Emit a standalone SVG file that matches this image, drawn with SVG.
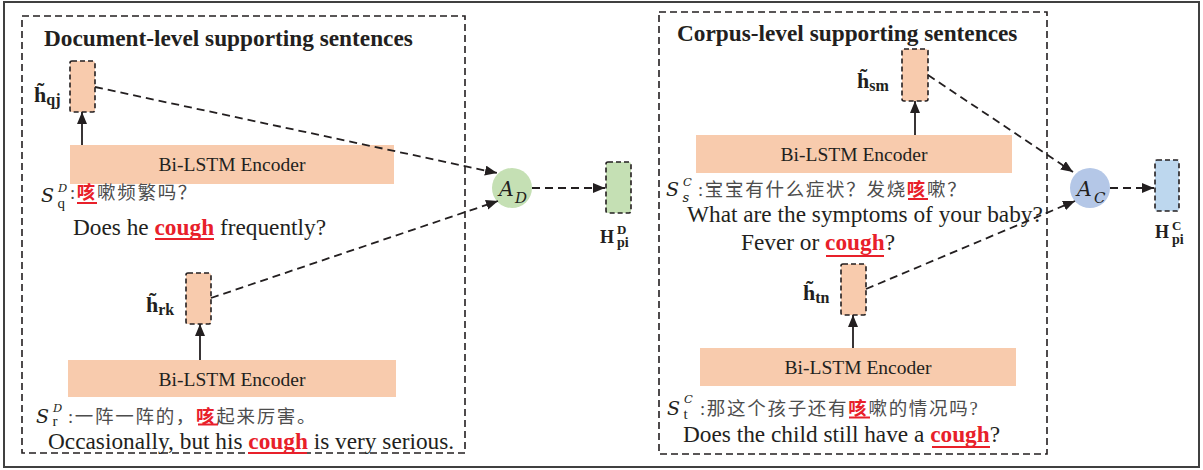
<svg xmlns="http://www.w3.org/2000/svg" width="1203" height="470" viewBox="0 0 1203 470">
  <defs>
    <marker id="ah" markerUnits="userSpaceOnUse" markerWidth="13" markerHeight="11" refX="12" refY="5" orient="auto">
      <path d="M0,0 L12,5 L0,10 z" fill="#231f20"/>
    </marker>
    <style>
      .frame { fill: #fff; stroke: #404040; stroke-width: 2; }
      .group { fill: none; stroke: #231f20; stroke-width: 1.6; stroke-dasharray: 7 4; }
      .enc { fill: #f8cbad; }
      .vec { stroke: #231f20; stroke-width: 1.6; stroke-dasharray: 5 3; }
      .peach { fill: #f8cbad; }
      .green { fill: #c5e0b4; }
      .blue { fill: #bdd7ee; }
      .dash { fill: none; stroke: #231f20; stroke-width: 1.8; stroke-dasharray: 8 5; marker-end: url(#ah); }
      .solid { fill: none; stroke: #231f20; stroke-width: 1.8; marker-end: url(#ah); }
      text { font-family: 'Liberation Serif', 'Times New Roman', serif; }
      .title { font-weight: bold; font-size: 23.3px; fill: #231f20; }
      .enct { font-size: 19.5px; fill: #231f20; text-anchor: middle; }
      .en { font-size: 23.3px; fill: #231f20; }
      .zh { font-family: 'Liberation Serif', 'Noto Sans CJK SC', serif; font-size: 18.5px; letter-spacing: 1.7px; fill: #4d4d4d; }
      .hl { fill: #e8202a; font-weight: bold; }
      .ul { stroke: #e8202a; stroke-width: 2; }
      .math { font-family: 'DejaVu Serif', 'Liberation Serif', serif; font-style: italic; fill: #231f20; }
      .up { fill: #231f20; }
      .vlab { font-weight: bold; fill: #231f20; }
    </style>
  </defs>

  <rect class="frame" x="4" y="2" width="1195" height="465"/>

  <!-- document-level group -->
  <g id="doc-group">
    <rect class="group" x="22" y="16" width="443" height="437"/>
    <text class="title" x="44" y="45.5">Document-level supporting sentences</text>
  </g>

  <!-- corpus-level group -->
  <g id="corpus-group">
    <rect class="group" x="659" y="12" width="388" height="442"/>
    <text class="title" x="677" y="40.5">Corpus-level supporting sentences</text>
  </g>

  <!-- encoders -->
  <g id="enc-q">
    <rect class="enc" x="70" y="145" width="324" height="39"/>
    <text class="enct" x="232" y="171">Bi-LSTM Encoder</text>
  </g>
  <g id="enc-r">
    <rect class="enc" x="68" y="360" width="328" height="37"/>
    <text class="enct" x="232" y="386">Bi-LSTM Encoder</text>
  </g>
  <g id="enc-s">
    <rect class="enc" x="696" y="135" width="316" height="38"/>
    <text class="enct" x="854" y="161">Bi-LSTM Encoder</text>
  </g>
  <g id="enc-t">
    <rect class="enc" x="700" y="348" width="316" height="38"/>
    <text class="enct" x="858" y="374">Bi-LSTM Encoder</text>
  </g>

  <!-- sentence vectors -->
  <g id="h-qj">
    <rect class="vec peach" x="70" y="61" width="25" height="51" rx="2"/>
    <text class="vlab" x="34" y="102" font-size="22">h&#x303;<tspan font-size="16" dy="3">qj</tspan></text>
  </g>
  <g id="h-rk">
    <rect class="vec peach" x="186" y="273" width="25" height="51" rx="2"/>
    <text class="vlab" x="146" y="312" font-size="22">h&#x303;<tspan font-size="16" dy="3">rk</tspan></text>
  </g>
  <g id="h-sm">
    <rect class="vec peach" x="902" y="49" width="26" height="52" rx="2"/>
    <text class="vlab" x="857" y="88" font-size="22">h&#x303;<tspan font-size="16" dy="3">sm</tspan></text>
  </g>
  <g id="h-tn">
    <rect class="vec peach" x="841" y="264" width="25" height="51" rx="2"/>
    <text class="vlab" x="803" y="300" font-size="22">h&#x303;<tspan font-size="16" dy="3">tn</tspan></text>
  </g>

  <!-- attention nodes -->
  <g id="attn-d">
    <circle cx="512" cy="188" r="20" class="green"/>
    <text class="math" x="499" y="196" font-size="20.5">A</text>
    <text class="math" x="515" y="203" font-size="15">D</text>
  </g>
  <g id="attn-c">
    <circle cx="1090" cy="188" r="20" fill="#b4c7e7"/>
    <text class="math" x="1077" y="196" font-size="20.5">A</text>
    <text class="math" x="1094" y="203" font-size="15">C</text>
  </g>

  <!-- pooled outputs -->
  <g id="H-d">
    <rect class="vec green" x="606" y="162" width="25" height="51" rx="2"/>
    <text class="vlab" x="600" y="243" font-size="18">H</text>
    <text class="vlab" x="617" y="234" font-size="13">D</text>
    <text class="vlab" x="617" y="247" font-size="14">pi</text>
  </g>
  <g id="H-c">
    <rect class="vec blue" x="1155" y="160" width="24" height="51" rx="2"/>
    <text class="vlab" x="1155" y="238" font-size="18">H</text>
    <text class="vlab" x="1172" y="230" font-size="13">C</text>
    <text class="vlab" x="1172" y="244" font-size="14">pi</text>
  </g>

  <!-- sentence S_q^D -->
  <g id="sent-q">
    <text class="math" x="41" y="202" font-size="19">S</text>
    <text class="math" x="58" y="191.5" font-size="11.5">D</text>
    <text class="up" x="57.5" y="208" font-size="15">q</text>
    <text class="zh" x="70" y="199">:<tspan class="hl">咳</tspan>嗽频繁吗？</text>
    <line class="ul" x1="77" y1="203" x2="97" y2="203"/>
    <text class="en" x="73" y="234.5">Does he <tspan class="hl">cough</tspan> frequently?</text>
    <line class="ul" x1="155" y1="239" x2="214" y2="239"/>
  </g>

  <!-- sentence S_r^D -->
  <g id="sent-r">
    <text class="math" x="36" y="423" font-size="19">S</text>
    <text class="math" x="53" y="412" font-size="11.5">D</text>
    <text class="up" x="52.5" y="426" font-size="15">r</text>
    <text class="zh" x="68" y="422.5">:一阵一阵的，<tspan class="hl">咳</tspan>起来厉害。</text>
    <line class="ul" x1="198" y1="424.5" x2="218" y2="424.5"/>
    <text class="en" x="48" y="449">Occasionally, but his <tspan class="hl">cough</tspan> is very serious.</text>
    <line class="ul" x1="248" y1="453" x2="307" y2="453"/>
  </g>

  <!-- sentence S_s^C -->
  <g id="sent-s">
    <text class="math" x="666" y="196" font-size="19">S</text>
    <text class="math" x="683" y="185.5" font-size="11.5">C</text>
    <text class="math" x="682.5" y="202" font-size="13">s</text>
    <text class="zh" x="698" y="195.5">:宝宝有什么症状？发烧<tspan class="hl">咳</tspan>嗽？</text>
    <line class="ul" x1="908" y1="199" x2="928" y2="199"/>
    <text class="en" x="687" y="222">What are the symptoms of your baby?</text>
    <text class="en" x="741" y="250">Fever or <tspan class="hl">cough</tspan>?</text>
    <line class="ul" x1="826" y1="256" x2="884" y2="256"/>
  </g>

  <!-- sentence S_t^C -->
  <g id="sent-t">
    <text class="math" x="667" y="415" font-size="19">S</text>
    <text class="math" x="684" y="402.5" font-size="11.5">C</text>
    <text class="up" x="683.5" y="418.5" font-size="15">t</text>
    <text class="zh" x="700" y="414.5">:那这个孩子还有<tspan class="hl">咳</tspan>嗽的情况吗?</text>
    <line class="ul" x1="849" y1="417.5" x2="870" y2="417.5"/>
    <text class="en" x="683" y="442">Does the child still have a <tspan class="hl">cough</tspan>?</text>
    <line class="ul" x1="932" y1="447" x2="990" y2="447"/>
  </g>

  <!-- connectors -->
  <g id="connectors">
    <line class="solid" x1="82" y1="145" x2="82" y2="112"/>
    <line class="solid" x1="200" y1="360" x2="200" y2="324"/>
    <line class="solid" x1="915" y1="135" x2="915" y2="101"/>
    <line class="solid" x1="853" y1="348" x2="853" y2="315"/>
    <line class="dash" x1="95" y1="87" x2="497" y2="173"/>
    <line class="dash" x1="211" y1="298" x2="498" y2="201"/>
    <line class="dash" x1="532" y1="188" x2="605" y2="188"/>
    <line class="dash" x1="928" y1="75" x2="1073" y2="172"/>
    <line class="dash" x1="866" y1="289" x2="1075" y2="201"/>
    <line class="dash" x1="1110" y1="188" x2="1154" y2="188"/>
  </g>
</svg>
